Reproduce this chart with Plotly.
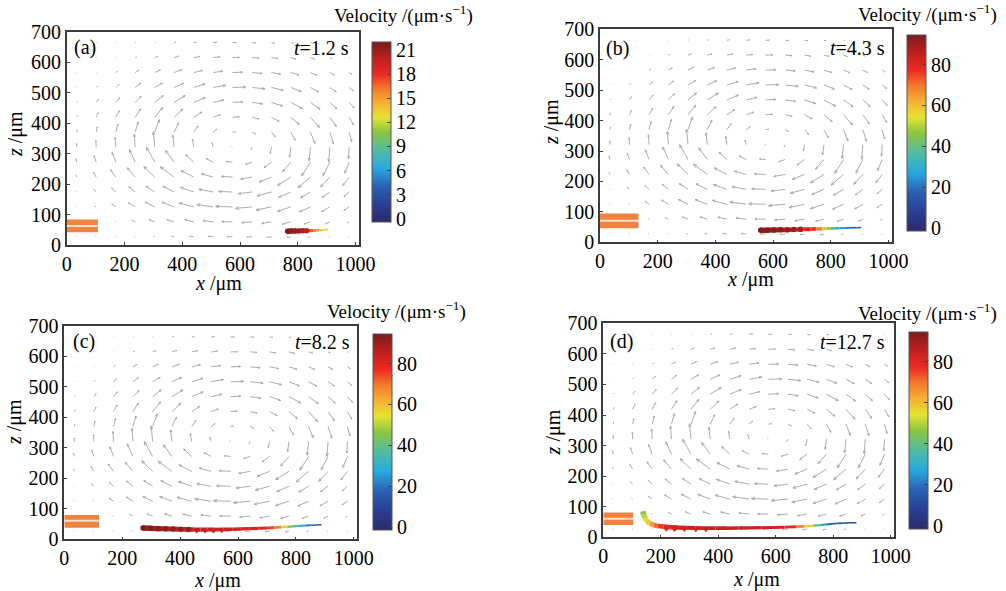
import math
import plotly.graph_objects as go
from plotly.colors import sample_colorscale

# ---------------- data ----------------
grid_x = [35, 102, 170, 237, 305, 372, 440, 507, 574, 642, 709, 776, 844, 911, 978]
grid_z = [27, 76, 125, 174, 223, 272, 321, 370, 419, 468, 517, 566, 615, 664]

# flow field (arrow units), rows follow grid_z, columns follow grid_x
flow_u = [
    [-0.7, -0.8, -0.8, -0.8, -1.4, -2.9, -4.1, -4.9, -5.2, -5.1, -4.5, -3.5, -2.1, -0.8, -0.8],
    [-0.8, -0.8, -0.9, -3.2, -5.5, -7.4, -9.1, -10.2, -10.7, -10.5, -9.7, -8.3, -6.4, -4.3, -2.0],
    [-0.7, -1.2, -3.9, -6.8, -9.7, -12.3, -14.7, -16.3, -17.0, -16.8, -15.5, -13.5, -10.9, -8.1, -5.3],
    [-0.5, -2.2, -4.2, -6.4, -8.8, -11.2, -13.4, -14.3, -13.9, -14.0, -14.3, -12.3, -9.9, -7.5, -5.2],
    [-1.1, -2.9, -5.2, -7.8, -10.9, -13.9, -12.8, -11.8, -11.2, -11.5, -12.3, -13.4, -12.5, -9.2, -6.4],
    [-1.0, -2.2, -3.7, -5.7, -8.4, -8.6, -8.0, -7.0, -6.1, -6.5, -7.5, -8.3, -8.8, -6.9, -4.6],
    [-0.2, -0.3, -0.6, -0.9, -1.4, -1.4, -1.3, -1.3, -1.0, -1.3, -1.3, -1.3, -1.4, -1.1, -0.7],
    [0.5, 1.2, 2.0, 3.1, 4.6, 4.5, 4.3, 3.8, 3.0, 3.4, 4.1, 4.4, 4.5, 3.7, 2.5],
    [0.9, 2.1, 3.6, 5.5, 7.9, 8.7, 8.0, 7.2, 6.7, 6.9, 7.7, 8.4, 9.0, 6.5, 4.4],
    [0.7, 2.2, 4.0, 6.1, 8.5, 11.0, 11.5, 10.7, 10.3, 10.5, 11.1, 11.9, 9.6, 7.2, 5.0],
    [0.4, 1.6, 3.4, 5.4, 7.5, 9.5, 11.3, 12.6, 13.3, 13.0, 12.0, 10.4, 8.4, 6.4, 4.4],
    [0.5, 0.5, 2.1, 3.9, 5.6, 7.3, 8.7, 9.6, 10.1, 9.9, 9.2, 8.0, 6.4, 4.7, 2.9],
    [0.5, 0.6, 0.6, 1.8, 3.3, 4.7, 5.8, 6.5, 6.9, 6.7, 6.2, 5.2, 4.0, 2.6, 1.0],
    [0.6, 0.6, 0.6, 0.6, 0.8, 1.9, 2.8, 3.4, 3.7, 3.5, 3.1, 2.4, 1.3, 0.6, 0.6],
]
flow_w = [
    [0.5, 0.4, 0.4, 0.3, 0.5, 0.7, 0.7, 0.5, 0.1, -0.3, -0.6, -0.8, -0.6, -0.3, -0.4],
    [0.6, 0.6, 0.6, 1.6, 2.2, 2.3, 2.0, 1.2, 0.2, -0.8, -1.6, -2.2, -2.3, -2.0, -1.1],
    [0.7, 1.0, 2.9, 4.2, 4.8, 4.7, 3.9, 2.4, 0.5, -1.5, -3.2, -4.4, -4.9, -4.6, -3.6],
    [0.6, 2.4, 4.0, 5.2, 5.8, 5.6, 4.7, 2.7, 0.5, -1.7, -3.9, -5.3, -5.8, -5.5, -4.6],
    [2.1, 4.8, 7.3, 9.2, 10.5, 10.2, 6.5, 3.3, 0.6, -2.0, -4.9, -8.4, -10.7, -9.9, -8.3],
    [3.3, 6.5, 9.7, 12.5, 14.9, 11.6, 7.4, 3.6, 0.6, -2.1, -5.5, -9.6, -13.8, -13.7, -11.1],
    [3.6, 6.8, 10.0, 13.2, 15.5, 11.8, 8.1, 4.4, 0.7, -2.7, -6.4, -10.1, -13.8, -14.7, -11.5],
    [2.8, 5.5, 8.1, 10.5, 12.7, 9.5, 6.2, 3.1, 0.5, -1.7, -4.7, -8.0, -11.2, -11.7, -9.3],
    [2.1, 4.5, 6.6, 8.5, 9.8, 8.3, 5.3, 2.6, 0.5, -1.6, -4.0, -6.9, -10.1, -9.2, -7.6],
    [1.1, 3.1, 4.8, 6.1, 6.8, 6.8, 4.8, 2.5, 0.5, -1.5, -3.7, -6.3, -6.9, -6.5, -5.5],
    [0.5, 1.6, 3.0, 4.0, 4.4, 4.3, 3.5, 2.2, 0.4, -1.4, -3.0, -4.0, -4.5, -4.3, -3.5],
    [0.5, 0.4, 1.4, 2.3, 2.7, 2.6, 2.1, 1.3, 0.3, -0.9, -1.8, -2.5, -2.7, -2.5, -1.9],
    [0.4, 0.4, 0.3, 0.9, 1.3, 1.4, 1.2, 0.7, 0.2, -0.5, -1.0, -1.3, -1.4, -1.1, -0.5],
    [0.4, 0.3, 0.3, 0.3, 0.3, 0.5, 0.5, 0.3, 0.1, -0.2, -0.4, -0.5, -0.4, -0.2, -0.3],
]

panel_labels = ["(a)", "(b)", "(c)", "(d)"]
panel_times = ["1.2", "4.3", "8.2", "12.7"]

# particle trajectories (x, z in µm; velocity in µm/s)
traj_a_x = [765, 775, 785, 795, 805, 815, 825, 835, 845, 855, 865, 875, 885, 895, 905]
traj_a_z = [45.5, 45.5, 46, 46, 46, 46.5, 46.5, 47, 47, 47.5, 48, 48.5, 49, 50, 51]
traj_a_v = [21.5, 21, 20.5, 20, 19.5, 19, 18.5, 18, 17.5, 16.5, 15.5, 14.5, 13.5, 12.5, 11]

traj_b_x = [555, 580, 605, 630, 655, 680, 705, 730, 750, 770, 785, 800, 815, 830, 850, 870, 890, 905]
traj_b_z = [40, 40, 40.5, 41, 41, 42, 42.5, 43, 44, 44.5, 45, 45.5, 46, 46.5, 47, 47.5, 48, 48.5]
traj_b_v = [90, 89, 88, 87, 86, 85, 83, 79, 73, 64, 54, 42, 33, 28, 24, 20, 17, 15]

traj_c_x = [272, 295, 320, 345, 370, 395, 420, 445, 470, 495, 520, 550, 580, 610, 640, 670,
            700, 725, 750, 770, 790, 810, 830, 850, 870, 888]
traj_c_z = [37, 36, 35, 34.5, 34, 33, 32.5, 32, 32, 32, 32, 32.5, 33, 34, 35, 36,
            37, 38.5, 40, 41, 42.5, 44, 45, 46, 47, 48]
traj_c_v = [89, 88, 87, 86, 86, 85, 85, 84, 84, 84, 83, 83, 83, 82, 81, 80,
            78, 72, 64, 50, 40, 30, 22, 17, 14, 12]

traj_d_x = [138, 140, 145, 152, 162, 175, 190, 210, 235, 260, 290, 320, 350, 390, 430, 470,
            510, 550, 590, 630, 670, 700, 730, 755, 775, 795, 815, 835, 855, 880]
traj_d_z = [85, 75, 63, 53, 45, 40, 37, 35, 33, 32, 31, 30.5, 30, 30, 30, 30.5,
            31, 31.5, 32, 33, 34.5, 36, 38, 40, 42, 44, 45.5, 46.5, 47.5, 48]
traj_d_v = [45, 48, 52, 56, 62, 68, 74, 78, 81, 83, 84, 84, 84, 84, 84, 84,
            84, 84, 83, 81, 75, 65, 48, 32, 22, 18, 15, 13, 12, 10]

# sampled particle positions (dots)
dots_a_x = [765, 778, 791, 804, 817, 830]
dots_a_z = [45.5, 46, 46, 46, 46.5, 46.5]
dots_a_v = [22, 21.5, 21, 21, 20.5, 20]
dots_b_x = [557, 580, 603, 626, 649, 672, 695]
dots_b_z = [40, 40, 40.5, 41, 41, 42, 42.5]
dots_b_v = [94, 94, 93, 92, 91, 90, 89]
dots_c_x = [272, 298, 324, 350, 376, 402, 428, 457, 486, 515, 544]
dots_c_z = [37, 36, 35, 34.5, 34, 33, 32.5, 28, 28, 28, 28.5]
dots_c_v = [94, 94, 93, 93, 92, 92, 91, 86, 85, 84, 83]
dots_d_x = [219, 248, 282, 322, 357]
dots_d_z = [27, 26, 26, 25.5, 25.5]
dots_d_v = [80, 82, 83, 84, 84]

# acoustic source (orange block): x extent, z bottom, z top, z of the white split line
src_x1 = [108, 133, 120, 104]
src_z0 = [42, 46, 38, 40.5]
src_z1 = [84, 95, 80, 81]
src_zm = [62, 71, 61, 61]

# colour bar ranges / ticks
cbar_min = [-0.4, -1.5, -1.5, -1.5]
cbar_max = [22, 94.5, 94.5, 94.5]
cbar_ticks = [[0, 3, 6, 9, 12, 15, 18, 21], [0, 20, 40, 60, 80], [0, 20, 40, 60, 80], [0, 20, 40, 60, 80]]

x_ticks = [0, 200, 400, 600, 800, 1000]
z_ticks = [0, 100, 200, 300, 400, 500, 600, 700]

# ---------------- style ----------------
W, H = 1006, 591
FONT = "Liberation Serif"
FS = 20
cscale = [
    [0.0, 'rgb(43,42,107)'],
    [0.1, 'rgb(42,63,148)'],
    [0.2, 'rgb(43,98,179)'],
    [0.3, 'rgb(40,169,224)'],
    [0.4, 'rgb(82,188,160)'],
    [0.5, 'rgb(140,198,63)'],
    [0.58, 'rgb(230,226,53)'],
    [0.66, 'rgb(246,177,50)'],
    [0.74, 'rgb(244,122,44)'],
    [0.82, 'rgb(236,42,36)'],
    [0.9, 'rgb(196,32,31)'],
    [1.0, 'rgb(122,28,28)'],
]

# panel placement in page pixels: (left, right, top, bottom)
plot_px = [(66.7, 359, 31.7, 245), (600, 892, 29.3, 242.3),
           (64.3, 357.3, 326, 539.3), (603.3, 894.3, 323.3, 537.3)]
cbar_px = [(372, 42, 222), (907, 35, 231), (373, 334, 530), (909, 332, 529)]
cbar_title_px = [(475, 15), (999, 13), (468, 310), (999, 312)]
xtitle_dom = [(0.52, -0.18), (0.517, -0.175), (0.524, -0.192), (0.525, -0.196)]
ytitle_dom = [(-0.177, 0.52), (-0.164, 0.565), (-0.168, 0.55), (-0.173, 0.49)]
label_dom = [(0.018, 0.924), (0.014, 0.911), (0.023, 0.926), (0.016, 0.914)]
time_dom = [(0.973, 0.924), (0.982, 0.911), (0.981, 0.926), (0.974, 0.914)]
XMAX = 1012


def fx(px):
    return px / W


def fy(py):
    return 1 - py / H


trajs = [(traj_a_x, traj_a_z, traj_a_v), (traj_b_x, traj_b_z, traj_b_v),
         (traj_c_x, traj_c_z, traj_c_v), (traj_d_x, traj_d_z, traj_d_v)]
dots = [(dots_a_x, dots_a_z, dots_a_v), (dots_b_x, dots_b_z, dots_b_v),
        (dots_c_x, dots_c_z, dots_c_v), (dots_d_x, dots_d_z, dots_d_v)]

fig = go.Figure()
layout = dict(width=W, height=H, margin=dict(l=0, r=0, t=0, b=0, autoexpand=False),
              paper_bgcolor='white', plot_bgcolor='white', showlegend=False,
              font=dict(family=FONT, size=FS, color='black'))
shapes, annotations = [], []

for p in range(4):
    xa = 'x' if p == 0 else f'x{p+1}'
    ya = 'y' if p == 0 else f'y{p+1}'
    xkey = 'xaxis' if p == 0 else f'xaxis{p+1}'
    ykey = 'yaxis' if p == 0 else f'yaxis{p+1}'
    l, r, t, b = plot_px[p]
    px_per_x = (r - l) / XMAX
    px_per_z = (b - t) / 700.0
    sx, sz = 1.0 / px_per_x, 1.0 / px_per_z
    common = dict(showline=True, mirror=True, linecolor='#3c3c3c', linewidth=1.6,
                  ticks='inside', ticklen=3, tickcolor='#3c3c3c', showgrid=False,
                  zeroline=False, tickfont=dict(family=FONT, size=FS, color='black'),
                  fixedrange=True, automargin=False)
    layout[xkey] = dict(domain=[fx(l), fx(r)], range=[0, XMAX], tickvals=x_ticks,
                        anchor=ya, **common)
    layout[ykey] = dict(domain=[fy(b), fy(t)], range=[0, 700], tickvals=z_ticks,
                        anchor=xa, **common)

    # quiver arrows
    axs, azs = [], []
    for j, z0 in enumerate(grid_z):
        for i, x0 in enumerate(grid_x):
            u, w = flow_u[j][i], flow_w[j][i]
            L = math.hypot(u, w)
            x1, z1 = x0 + u * sx, z0 + w * sz
            axs += [x0, x1, None]
            azs += [z0, z1, None]
            if L > 3.0:
                hl = 0.22 * L
                ang = math.atan2(w, u)
                for da in (0.38, -0.38):
                    axs += [x1, x1 - hl * math.cos(ang + da) * sx, None]
                    azs += [z1, z1 - hl * math.sin(ang + da) * sz, None]
    fig.add_trace(go.Scatter(x=axs, y=azs, mode='lines', xaxis=xa, yaxis=ya,
                             line=dict(color='#adadad', width=1), hoverinfo='skip'))

    # source block
    shapes.append(dict(type='rect', xref=xa, yref=ya, x0=0, x1=src_x1[p], y0=src_z0[p],
                       y1=src_z1[p], fillcolor='#f0833f', line=dict(width=0), layer='above'))
    shapes.append(dict(type='line', xref=xa, yref=ya, x0=0, x1=src_x1[p], y0=src_zm[p],
                       y1=src_zm[p], line=dict(color='#fde2cf', width=2), layer='above'))

    # trajectory coloured by velocity
    tx, tz, tv = trajs[p]
    cmin, cmax = cbar_min[p], cbar_max[p]
    n = len(tx)
    for k in range(n - 1):
        vm = 0.5 * (tv[k] + tv[k + 1])
        frac = min(1.0, max(0.0, (vm - cmin) / (cmax - cmin)))
        col = sample_colorscale(cscale, [frac])[0]
        wdt = 5.5 - 4.0 * k / (n - 2)
        fig.add_trace(go.Scatter(x=[tx[k], tx[k + 1]], y=[tz[k], tz[k + 1]], mode='lines',
                                 xaxis=xa, yaxis=ya, line=dict(color=col, width=wdt),
                                 hoverinfo='skip'))

    # sampled positions with colour bar
    dx, dz, dv = dots[p]
    cbx, cbt, cbb = cbar_px[p]
    symbols = ['circle'] * len(dx)
    if p == 2:
        symbols = ['circle'] * 7 + ['triangle-down'] * (len(dx) - 7)
    if p == 3:
        symbols = ['triangle-down'] * len(dx)
    fig.add_trace(go.Scatter(
        x=dx, y=dz, mode='markers', xaxis=xa, yaxis=ya, hoverinfo='skip',
        marker=dict(color=dv, colorscale=cscale, cmin=cmin, cmax=cmax, size=5.5,
                    symbol=symbols, line=dict(width=0), showscale=True,
                    colorbar=dict(x=fx(cbx), xanchor='left', xpad=0, ypad=0,
                                  y=(fy(cbt) + fy(cbb)) / 2, yanchor='middle',
                                  len=(cbb - cbt) / H, lenmode='fraction', thickness=19,
                                  outlinewidth=1, outlinecolor='#555',
                                  tickvals=cbar_ticks[p], ticks='inside', ticklen=4,
                                  tickcolor='#444',
                                  tickfont=dict(family=FONT, size=FS, color='black')))))

    # texts
    annotations.append(dict(xref=f'{xa} domain', yref=f'{ya} domain', x=xtitle_dom[p][0],
                            y=xtitle_dom[p][1], text='<i>x</i> /μm', showarrow=False,
                            xanchor='center', yanchor='middle', font=dict(size=FS)))
    annotations.append(dict(xref=f'{xa} domain', yref=f'{ya} domain', x=ytitle_dom[p][0],
                            y=ytitle_dom[p][1], text='<i>z</i> /μm', showarrow=False,
                            textangle=-90, xanchor='center', yanchor='middle',
                            font=dict(size=FS)))
    annotations.append(dict(xref=f'{xa} domain', yref=f'{ya} domain', x=label_dom[p][0],
                            y=label_dom[p][1], text=panel_labels[p], showarrow=False,
                            xanchor='left', yanchor='middle', font=dict(size=FS)))
    annotations.append(dict(xref=f'{xa} domain', yref=f'{ya} domain', x=time_dom[p][0],
                            y=time_dom[p][1], text=f'<i>t</i>={panel_times[p]} s',
                            showarrow=False, xanchor='right', yanchor='middle',
                            font=dict(size=FS)))
    ctx, cty = cbar_title_px[p]
    annotations.append(dict(xref='paper', yref='paper', x=fx(ctx), y=fy(cty),
                            text='Velocity /(μm·s<sup>−1</sup>)', showarrow=False,
                            xanchor='right', yanchor='middle', font=dict(size=19)))

layout['shapes'] = shapes
layout['annotations'] = annotations
fig.update_layout(**layout)
fig.write_html("out.html", config={'displayModeBar': False},
               post_script="document.body.style.margin='0px';")
